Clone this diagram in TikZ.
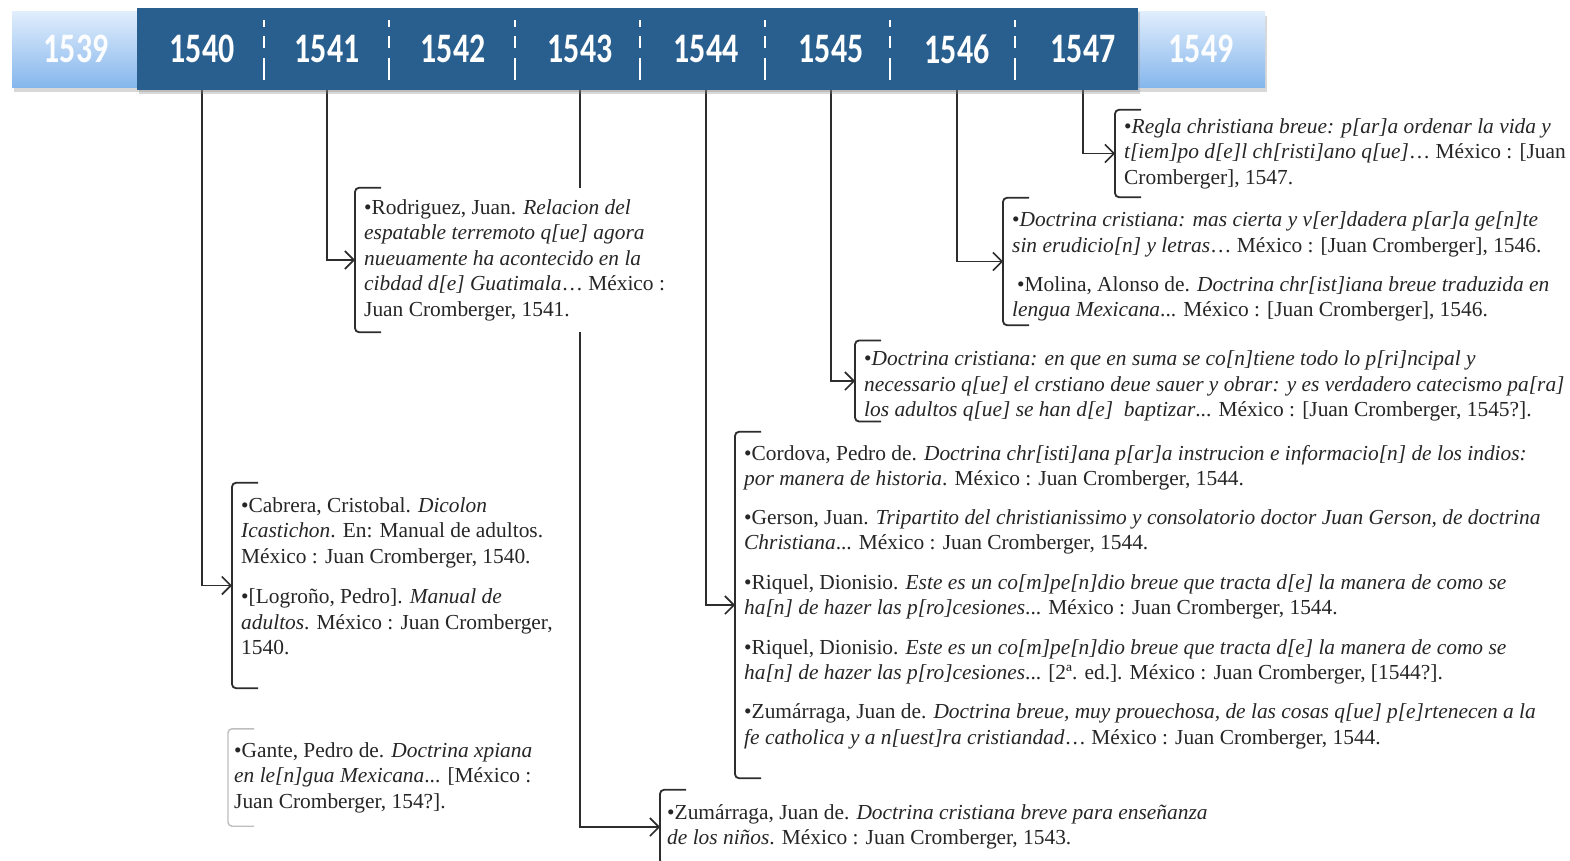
\documentclass[tikz,border=0pt]{standalone}
\usepackage{fontspec}
\setmainfont{Liberation Serif}
\newfontfamily\yearfont[FakeStretch=0.76]{Carlito}
\usetikzlibrary{arrows.meta,shadows,backgrounds}
\definecolor{bardark}{RGB}{40,95,143}
\definecolor{barlighttop}{RGB}{224,237,252}
\definecolor{barlightbot}{RGB}{132,182,236}
\definecolor{linegray}{RGB}{45,45,45}
\definecolor{faintgray}{RGB}{190,190,190}

\begin{document}
\begin{tikzpicture}[
    x=1pt, y=-1pt,
    >={Straight Barb[length=9pt,width=18pt,line width=1.6pt]},
    year node/.style={font=\yearfont\bfseries\fontsize{42}{42}\selectfont, text=white, inner sep=0pt},
    pale year/.style={year node, text=white!92!barlighttop},
    bar shadow/.style={drop shadow={shadow xshift=2pt, shadow yshift=-4pt, opacity=0.3}},
    ref box/.style={anchor=west, fill=white, align=left, inner xsep=9pt, inner ysep=0pt,
        font=\fontsize{21.4}{25.5}\selectfont, text=black!85},
    conn line/.style={draw=linegray, line width=1.6pt, ->},
    bracket line/.style={draw=linegray, line width=1.8pt, rounded corners=4pt},
    sep line/.style={white, line width=2.4pt, dash pattern=on 7pt off 9pt on 12pt off 10pt on 22pt}
    ]
    \newcommand{\brak}[2][bracket line]{
        \draw[#1] ([xshift=26pt]#2.north west) -- (#2.north west) -- (#2.south west) -- ([xshift=26pt]#2.south west);
    }
    \useasboundingbox (0,0) rectangle (1570,861);

    % timeline bar
    \fill[top color=barlighttop, bottom color=barlightbot, bar shadow] (12,12) rectangle (1265,88);
    \node[fill=bardark, bar shadow, anchor=north west, minimum width=1001pt, minimum height=82pt, inner sep=0pt] (bar) at (137,8) {};
    \node[pale year] (y1539) at (76,49) {1539};
    \node[pale year] (y1549) at (1201,49) {1549};
    \foreach \yr/\xx in {1540/202,1541/327,1542/453,1543/580,1544/706,1545/831,1546/957,1547/1083}
        \node[year node] (y\yr) at (\xx,49) {\yr};
    \foreach \xx in {264,389,515,640,765,890,1015}
        \draw[sep line] (\xx,20) -- (\xx,82);

    % entries
    \node[ref box, minimum height=87pt] (regla) at (1115,153.5) {%
        •\textit{Regla christiana breue: p[ar]a ordenar la vida y}\\
        \textit{t[iem]po d[e]l ch[risti]ano q[ue]}… México : [Juan\\
        Cromberger], 1547.};
    \node[ref box, minimum height=127pt] (doc1546) at (1003,261.5) {%
        \mbox{}\\[-0.5pt]
        •\textit{Doctrina cristiana: mas cierta y v[er]dadera p[ar]a ge[n]te}\\
        \textit{sin erudicio[n] y letras}… México : [Juan Cromberger], 1546.\\[13.5pt]
        \hspace{5pt}•Molina, Alonso de. \textit{Doctrina chr[ist]iana breue traduzida en}\\
        \textit{lengua Mexicana}... México : [Juan Cromberger], 1546.};
    \node[ref box, minimum height=78pt] (doc1545) at (855,381) {%
        \mbox{}\\[-0.5pt]
        •\textit{Doctrina cristiana: en que en suma se co[n]tiene todo lo p[ri]ncipal y}\\
        \textit{necessario q[ue] el crstiano deue sauer y obrar: y es verdadero catecismo pa[ra]}\\
        \textit{los adultos q[ue] se han d[e]\ \ baptizar}... México : [Juan Cromberger, 1545?].};
    \node[ref box, minimum height=144pt] (rodriguez) at (355,260) {%
        •Rodriguez, Juan. \textit{Relacion del}\\
        \textit{espatable terremoto q[ue] agora}\\
        \textit{nueuamente ha acontecido en la}\\
        \textit{cibdad d[e] Guatimala}… México :\\
        Juan Cromberger, 1541.};
    \node[ref box, minimum height=346pt] (cordova) at (735,605) {%
        •Cordova, Pedro de. \textit{Doctrina chr[isti]ana p[ar]a instrucion e informacio[n] de los indios:}\\
        \textit{por manera de historia}. México : Juan Cromberger, 1544.\\[13pt]
        •Gerson, Juan. \textit{Tripartito del christianissimo y consolatorio doctor Juan Gerson, de doctrina}\\
        \textit{Christiana}... México : Juan Cromberger, 1544.\\[14pt]
        •Riquel, Dionisio. \textit{Este es un co[m]pe[n]dio breue que tracta d[e] la manera de como se}\\
        \textit{ha[n] de hazer las p[ro]cesiones}... México : Juan Cromberger, 1544.\\[14pt]
        •Riquel, Dionisio. \textit{Este es un co[m]pe[n]dio breue que tracta d[e] la manera de como se}\\
        \textit{ha[n] de hazer las p[ro]cesiones}... [2ª. ed.]. México : Juan Cromberger, [1544?].\\[13.5pt]
        •Zumárraga, Juan de. \textit{Doctrina breue, muy prouechosa, de las cosas q[ue] p[e]rtenecen a la}\\
        \textit{fe catholica y a n[uest]ra cristiandad}… México : Juan Cromberger, 1544.\\[-5pt]
        \mbox{}};
    \node[ref box, minimum height=205pt] (cabrera) at (232,585.5) {%
        •Cabrera, Cristobal. \textit{Dicolon}\\
        \textit{Icastichon}. En: Manual de adultos.\\
        México : Juan Cromberger, 1540.\\[15pt]
        •[Logroño, Pedro]. \textit{Manual de}\\
        \textit{adultos}. México : Juan Cromberger,\\
        1540.\\[-6.5pt]
        \mbox{}};
    \node[ref box, minimum height=97pt, inner xsep=6pt] (gante) at (228,777.5) {%
        •Gante, Pedro de. \textit{Doctrina xpiana}\\
        \textit{en le[n]gua Mexicana}... [México :\\
        Juan Cromberger, 154?].};
    \node[ref box, minimum height=74pt, inner xsep=7pt] (zum1543) at (660,827) {%
        •Zumárraga, Juan de. \textit{Doctrina cristiana breve para enseñanza}\\
        \textit{de los niños}. México : Juan Cromberger, 1543.};

    \foreach \bx in {regla,doc1546,doc1545,rodriguez,cordova,cabrera,zum1543}
        {\brak{\bx}}
    \brak[bracket line, draw=faintgray, line width=1.4pt]{gante}

    % connectors, kept behind the entries
    \begin{pgfonlayer}{background}
        \fill[white] (0,0) rectangle (1570,861);
        \draw[conn line] (y1540 |- bar.south) |- (cabrera.west);
        \draw[conn line] (y1541 |- bar.south) |- (rodriguez.west);
        \draw[conn line] (y1543 |- bar.south) |- (zum1543.west);
        \draw[conn line] (y1544 |- bar.south) |- (cordova.west);
        \draw[conn line] (y1545 |- bar.south) |- (doc1545.west);
        \draw[conn line] (y1546 |- bar.south) |- (doc1546.west);
        \draw[conn line] (y1547 |- bar.south) |- (regla.west);
    \end{pgfonlayer}
\end{tikzpicture}
\end{document}
